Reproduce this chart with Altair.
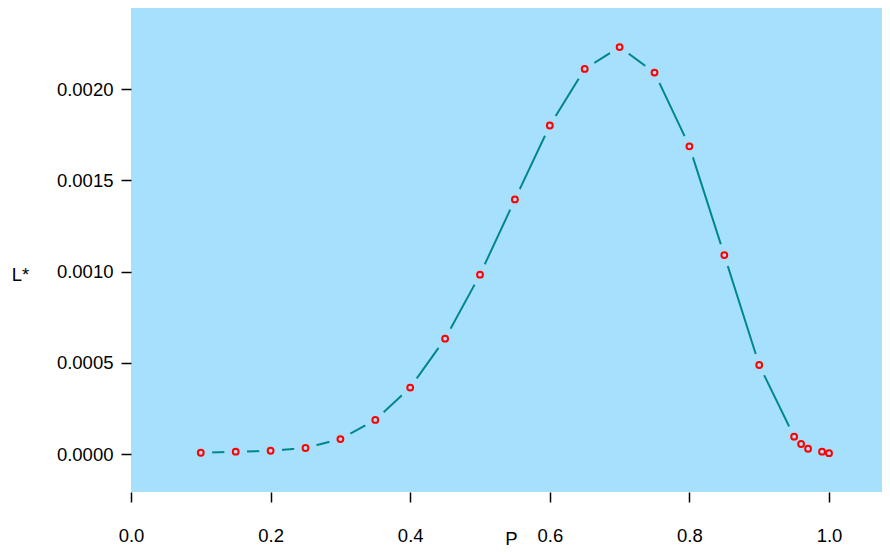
import altair as alt
import pandas as pd

P = [0.1, 0.15, 0.2, 0.25, 0.3, 0.35, 0.4, 0.45, 0.5, 0.55, 0.6, 0.65, 0.7,
     0.75, 0.8, 0.85, 0.9, 0.95, 0.96, 0.97, 0.99, 1.0]
L = [0.000007, 0.000013, 0.000018, 0.000033, 0.000082, 0.000187, 0.000364,
     0.000632, 0.000983, 0.001395, 0.0018, 0.00211, 0.00223, 0.00209,
     0.001686, 0.00109, 0.000488, 0.000095, 0.000055, 0.000029, 0.000013,
     0.000005]
x_ticks = [0.0, 0.2, 0.4, 0.6, 0.8, 1.0]
y_ticks = [0.0, 0.0005, 0.0010, 0.0015, 0.0020]

df = pd.DataFrame({"P": P, "L": L})

BG = "#A7E0FD"
FONT = "Liberation Sans"
FS = 18.5

x = alt.X("P:Q", scale=alt.Scale(domain=[0, 1.0759], nice=False, zero=False),
          axis=alt.Axis(values=x_ticks, format=".1f", title="P", grid=False,
                        domain=False, tickSize=10, tickWidth=1.5, tickColor="black",
                        labelPadding=24, labelFontSize=FS, labelFont=FONT,
                        labelColor="black", labelFlush=False, labelOverlap=False,
                        titleFontSize=FS, titleFont=FONT,
                        titleFontWeight="normal", titleColor="black",
                        titleX=380, titleY=52, titleBaseline="alphabetic",
                        titleAlign="center"))
y = alt.Y("L:Q", scale=alt.Scale(domain=[-0.000208, 0.002444], nice=False, zero=False),
          axis=alt.Axis(values=y_ticks, format=".4f", title="L*", grid=False,
                        domain=False, tickSize=10, tickWidth=1.5, tickColor="black",
                        labelPadding=8, labelFontSize=FS, labelFont=FONT,
                        labelColor="black", labelFlush=False, labelOverlap=False,
                        titleFontSize=FS, titleFont=FONT,
                        titleFontWeight="normal", titleColor="black", titleAngle=0,
                        titleX=-111, titleY=272, titleBaseline="alphabetic",
                        titleAlign="center"))

base = alt.Chart(df)
line = base.mark_line(color="#00878C", strokeWidth=2).encode(x=x, y=y)
mask = base.mark_point(shape="circle", filled=True, fill=BG, opacity=1,
                       strokeWidth=0, size=520).encode(x=x, y=y)
pts = base.mark_point(shape="circle", filled=False, color="#FF0000",
                      strokeWidth=2, size=34, opacity=1).encode(x=x, y=y)

chart = alt.layer(line, mask, pts).properties(
    width=751, height=484,
    autosize=alt.AutoSizeParams(type="none"),
    padding={"left": 123, "top": 0, "right": 0, "bottom": 59},
).configure_view(fill=BG, strokeWidth=0)

chart.save("out.html", embed_options={"renderer": "svg", "actions": False})
